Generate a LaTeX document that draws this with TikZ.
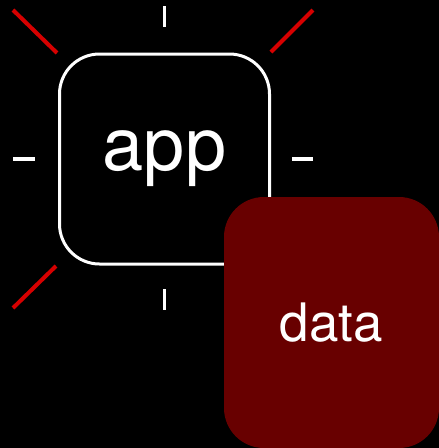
\documentclass[tikz,border=0pt]{standalone}
\usepackage{fontspec}
\setmainfont{TeX Gyre Heros}
\definecolor{raycol}{RGB}{214,0,0}
\definecolor{datacol}{RGB}{104,0,0}
\begin{document}
\begin{tikzpicture}[x=1pt,y=-1pt,
  appbox/.style={draw=white,line width=3pt,rounded corners=40pt,minimum width=210pt,minimum height=210pt,inner sep=0pt,text=white,font=\fontsize{74}{74}\selectfont},
  databox/.style={fill=datacol,rounded corners=40pt,minimum width=215pt,minimum height=251pt,inner sep=0pt,text=white,font=\fontsize{53}{53}\selectfont},
  tick/.style={white,line width=3.5pt},
  ray/.style={raycol,line width=4pt}]
\fill[black] (0,0) rectangle (439,448);
\useasboundingbox (0,0) rectangle (439,448);
\node[appbox] (app) at (164.5,159) {app};
\draw[tick] (164.5,6) -- (164.5,27);
\draw[tick] (164.5,289) -- (164.5,310);
\draw[tick] (13,159) -- (35,159);
\draw[tick] (292,159) -- (313,159);
\draw[ray] (13,10) -- (57,53);
\draw[ray] (313,10) -- (271,52);
\draw[ray] (56,266) -- (13,308);
\node[databox] (data) at (331.5,322.5) {data};
\end{tikzpicture}
\end{document}
